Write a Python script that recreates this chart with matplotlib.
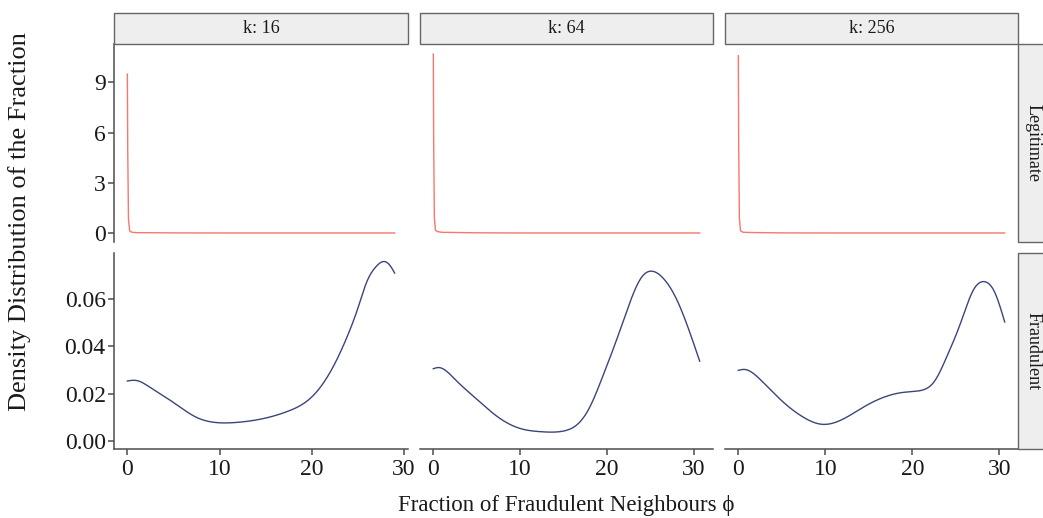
import matplotlib
matplotlib.use("Agg")
import matplotlib.pyplot as plt
from matplotlib.patches import Rectangle
import numpy as np

plt.rcParams['font.family'] = ['Liberation Serif', 'DejaVu Serif']

# facet labels
k_values = ["k: 16", "k: 64", "k: 256"]
classes = ["Legitimate", "Fraudulent"]

# density of the fraction for legitimate nodes (spike at zero)
legit_x = [
    [0, 0.04, 0.12, 0.25, 0.5, 1.0, 5, 10, 15, 20, 25, 29.0],
    [0, 0.04, 0.12, 0.25, 0.5, 1.0, 5, 10, 15, 20, 25, 30.7],
    [0, 0.04, 0.12, 0.25, 0.5, 1.0, 5, 10, 15, 20, 25, 30.6],
]
legit_y = [
    [9.5, 5.0, 0.8, 0.12, 0.04, 0.02, 0.005, 0, 0, 0, 0, 0],
    [10.7, 5.6, 0.9, 0.15, 0.08, 0.04, 0.01, 0, 0, 0, 0, 0],
    [10.6, 5.5, 0.9, 0.14, 0.05, 0.03, 0.005, 0, 0, 0, 0, 0],
]

# density of the fraction for fraudulent nodes
fraud_x = [
    [0, 1, 2.5, 5, 7.5, 10, 12, 15, 17.5, 20, 22, 24, 25, 26, 27, 27.8, 28.5, 29],
    [0, 0.6, 2.5, 5, 7.5, 10, 12.5, 15, 16.5, 18, 19.5, 21, 22.5, 24, 25.2, 26.5, 28, 29.5, 30.7],
    [0, 0.7, 2.5, 5, 7.5, 9.5, 12, 14.5, 17, 19, 21, 22.5, 24, 25.5, 27, 28.2, 29.5, 30.6],
]
fraud_y = [
    [0.0253, 0.0255, 0.0225, 0.0162, 0.0099, 0.0076, 0.0078, 0.0096, 0.0126, 0.0185,
     0.029, 0.0455, 0.056, 0.0675, 0.0738, 0.0759, 0.0742, 0.071],
    [0.0305, 0.031, 0.026, 0.0176, 0.0099, 0.0052, 0.0038, 0.0041, 0.0066, 0.014,
     0.027, 0.0415, 0.057, 0.0692, 0.0718, 0.0688, 0.0602, 0.0465, 0.0337],
    [0.0298, 0.0302, 0.026, 0.0169, 0.0099, 0.007, 0.0091, 0.0145, 0.0188, 0.0205,
     0.0213, 0.025, 0.036, 0.0495, 0.0638, 0.0674, 0.0625, 0.0503],
]

W, H = 1043, 518
fig = plt.figure(figsize=(W / 100, H / 100), dpi=100)

col_x = [(114, 408), (420, 713), (725, 1018)]
row_y = [(44, 242), (253, 449)]
axis_col = "#4d4d4d"
text_col = "#1a1a1a"
strip_fill = "#eeeeee"
strip_edge = "#666666"
legit_col = "#f8766d"
fraud_col = "#3b4579"


def px_axes(x0, y0, x1, y1):
    return fig.add_axes([x0 / W, 1 - y1 / H, (x1 - x0) / W, (y1 - y0) / H])


def spline(xs, ys, n=400):
    # natural cubic spline through the points
    xs = np.asarray(xs, float)
    ys = np.asarray(ys, float)
    k = len(xs)
    h = np.diff(xs)
    A = np.zeros((k, k))
    b = np.zeros(k)
    A[0, 0] = A[-1, -1] = 1
    for i in range(1, k - 1):
        A[i, i - 1] = h[i - 1]
        A[i, i] = 2 * (h[i - 1] + h[i])
        A[i, i + 1] = h[i]
        b[i] = 6 * ((ys[i + 1] - ys[i]) / h[i] - (ys[i] - ys[i - 1]) / h[i - 1])
    M = np.linalg.solve(A, b)
    t = np.linspace(xs[0], xs[-1], n)
    j = np.clip(np.searchsorted(xs, t) - 1, 0, k - 2)
    a = xs[j + 1] - t
    c = t - xs[j]
    hj = h[j]
    y = (M[j] * a**3 + M[j + 1] * c**3) / (6 * hj) \
        + (ys[j] / hj - M[j] * hj / 6) * a + (ys[j + 1] / hj - M[j + 1] * hj / 6) * c
    return t, y


tick_kw = dict(labelsize=17, colors=axis_col, labelcolor=text_col, length=4, width=1.1)

for c in range(3):
    x0, x1 = col_x[c]
    xmax = max(fraud_x[c][-1], legit_x[c][-1])
    xlim = (-0.05 * xmax, xmax * 1.05)
    for r in range(2):
        y0, y1 = row_y[r]
        ax = px_axes(x0, y0, x1, y1)
        if r == 0:
            ax.plot(legit_x[c], legit_y[c], color=legit_col, lw=1.0)
            ax.set_ylim(-0.54, 11.3)
            ax.set_yticks([0, 3, 6, 9])
            ax.set_yticklabels(["0", "3", "6", "9"])
        else:
            xs, ys = spline(fraud_x[c], fraud_y[c])
            ax.plot(xs, ys, color=fraud_col, lw=1.0)
            ax.set_ylim(-0.0035, 0.0795)
            ax.set_yticks([0, 0.02, 0.04, 0.06])
            ax.set_yticklabels(["0.00", "0.02", "0.04", "0.06"])
        ax.set_xlim(*xlim)
        ax.set_xticks([0, 10, 20, 30])
        for side in ["top", "right"]:
            ax.spines[side].set_visible(False)
        ax.spines["left"].set_visible(c == 0)
        ax.spines["bottom"].set_visible(r == 1)
        for side in ["left", "bottom"]:
            ax.spines[side].set_color(axis_col)
            ax.spines[side].set_linewidth(1.1)
        ax.tick_params(**tick_kw)
        ax.tick_params(axis="y", pad=2)
        if c != 0:
            ax.tick_params(axis="y", left=False, labelleft=False)
        if r == 0:
            ax.tick_params(axis="x", bottom=False, labelbottom=False)
        ax.patch.set_alpha(0)

    # column strip
    fig.patches.append(Rectangle((x0 / W, 1 - 44 / H), (x1 - x0) / W, 31 / H,
                                 transform=fig.transFigure, facecolor=strip_fill,
                                 edgecolor=strip_edge, lw=1.0))
    fig.text((x0 + x1) / 2 / W, 1 - 28.5 / H, k_values[c], ha="center", va="center",
             fontsize=13, color=text_col)

# row strips
for r in range(2):
    y0, y1 = row_y[r]
    fig.patches.append(Rectangle((1018 / W, 1 - y1 / H), 31 / W, (y1 - y0) / H,
                                 transform=fig.transFigure, facecolor=strip_fill,
                                 edgecolor=strip_edge, lw=1.0))
    fig.text(1033.5 / W, 1 - (y0 + y1) / 2 / H, classes[r], ha="center", va="center",
             rotation=-90, fontsize=13, color=text_col)

fig.text(20 / W, 1 - 222 / H, "Density Distribution of the Fraction", rotation=90,
         ha="center", va="center", fontsize=19, color=text_col)
fig.text(566 / W, 1 - 505 / H, "Fraction of Fraudulent Neighbours \u03d5",
         ha="center", va="center", fontsize=16.5, color=text_col)

fig.savefig("out.png", dpi=100, facecolor="white")
